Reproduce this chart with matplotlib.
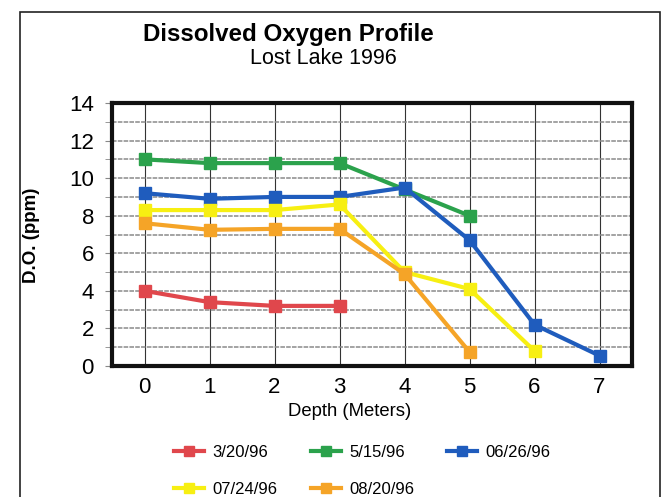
# Dissolved oxygen profile, Lost Lake 1996
import matplotlib
matplotlib.use('Agg')
import matplotlib.pyplot as plt
from matplotlib.patches import Rectangle

plt.rcParams['font.family'] = ['Liberation Sans', 'DejaVu Sans']

# data (depth in meters, D.O. in ppm)
depth = [0, 1, 2, 3, 4, 5, 6, 7]
labels = ['3/20/96', '5/15/96', '06/26/96', '07/24/96', '08/20/96']
do_0320 = [4.0, 3.4, 3.2, 3.2]
do_0515 = [11.0, 10.8, 10.8, 10.8, 9.4, 8.0]
do_0626 = [9.2, 8.9, 9.0, 9.0, 9.5, 6.7, 2.2, 0.55]
do_0724 = [8.3, 8.3, 8.3, 8.6, 5.0, 4.1, 0.8]
do_0820 = [7.6, 7.25, 7.3, 7.3, 4.9, 0.75]
series = [do_0320, do_0515, do_0626, do_0724, do_0820]
colors = ['#e0474c', '#2ba24c', '#1f5cbd', '#f7ef12', '#f5a427']

fig = plt.figure(figsize=(6.65, 4.97), dpi=100)

# outer frame of the scanned chart
fig.patches.append(Rectangle((20 / 665, -0.05), 640 / 665, 1.05 - 12 / 497,
                             transform=fig.transFigure, fill=False,
                             edgecolor='#222222', linewidth=1.2))

ax = fig.add_axes([112 / 665, 1 - 366 / 497, 520 / 665, 263 / 497])

handles = []
for vals, lab, c in zip(series, labels, colors):
    h, = ax.plot(depth[:len(vals)], vals, color=c, linewidth=3,
                 marker='s', markersize=8, label=lab, zorder=3)
    handles.append(h)

ax.set_xlim(-0.5, 7.5)
ax.set_ylim(0, 14)
ax.set_xticks(depth)
ax.set_yticks(range(0, 15, 2))
ax.set_yticks(range(0, 15), minor=True)
ax.tick_params(axis='both', labelsize=16, length=0, pad=8)
ax.tick_params(axis='y', which='both', length=5, color='#888888', direction='out')

ax.grid(axis='y', which='both', color='#8a8a8a', linewidth=1.1, linestyle=(0, (3, 0.8)))
ax.grid(axis='x', which='major', color='#333333', linewidth=0.8)
ax.set_axisbelow(True)
for s in ax.spines.values():
    s.set_linewidth(3)
    s.set_color('#111111')

fig.text(350 / 665, 1 - 412 / 497, 'Depth (Meters)', fontsize=13.3,
         ha='center', va='center')
fig.text(32 / 665, 1 - 235 / 497, 'D.O. (ppm)', fontsize=13.5, fontweight='bold',
         rotation=90, ha='center', va='center')

fig.text(143 / 665, 1 - 34 / 497, 'Dissolved Oxygen Profile', fontsize=17.4,
         fontweight='bold', ha='left', va='center')
fig.text(323 / 665, 1 - 59 / 497, 'Lost Lake 1996', fontsize=15.5,
         ha='center', va='center')

# row-major order in a 3-column legend
order = [0, 3, 1, 4, 2]
fig.legend([handles[i] for i in order], [labels[i] for i in order],
           ncol=3, loc='upper left', bbox_to_anchor=(159 / 665, 1 - 430 / 497),
           frameon=False, fontsize=12, handlelength=1.8, handletextpad=0.5,
           columnspacing=2.0, labelspacing=1.3, markerscale=0.9)

fig.savefig('out.png', dpi=100)
